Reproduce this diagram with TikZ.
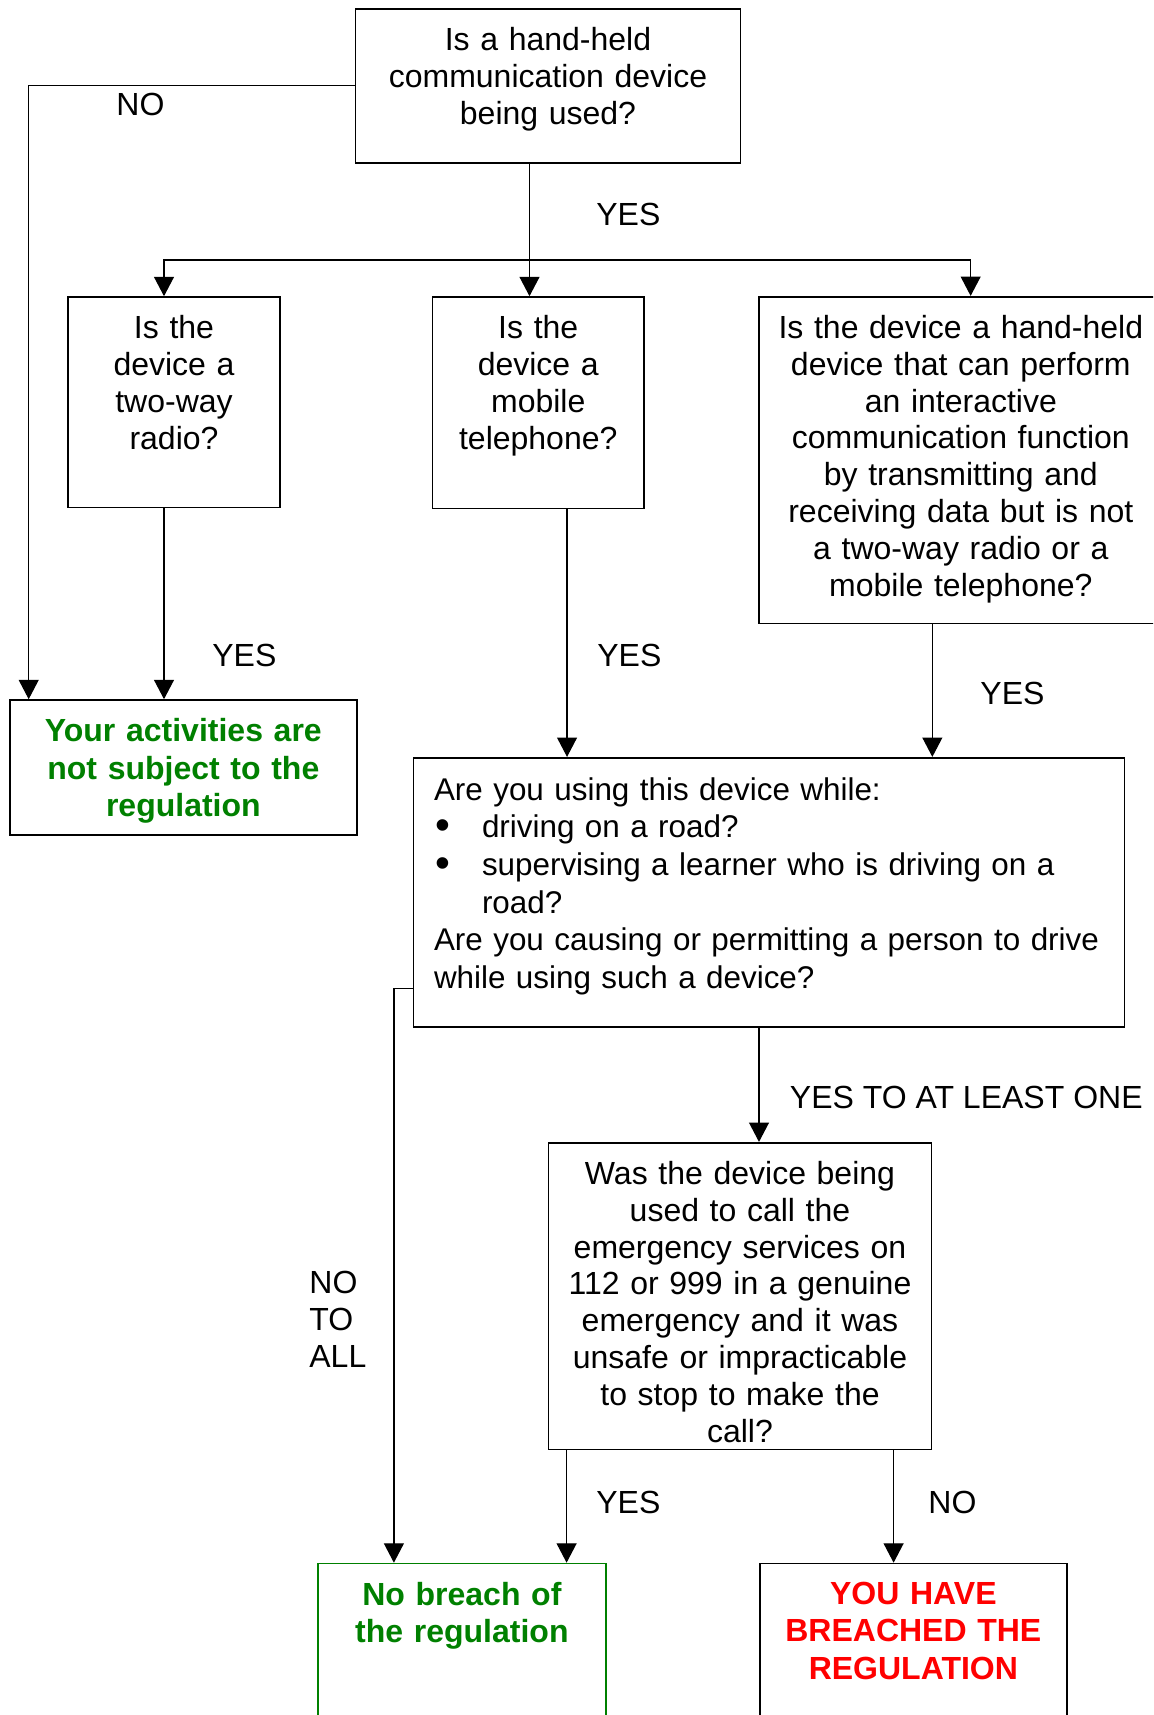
\documentclass[tikz,border=0pt]{standalone}
\usepackage{fontspec}
\setmainfont{Liberation Sans}
\usepackage{tikz}
\usetikzlibrary{arrows.meta,calc}
\definecolor{okgreen}{RGB}{0,128,0}
\definecolor{badred}{RGB}{255,0,0}
\newcommand{\bigbullet}{\makebox[24pt][l]{\hspace{0.5pt}\raisebox{-1pt}{\scalebox{1.35}{\textbullet}}}}

\begin{document}
\begin{tikzpicture}[x=0.5pt,y=-0.5pt,
  every node/.style={font=\fontsize{16pt}{18.4pt}\selectfont},
  qbox/.style={draw,line width=0.8pt,inner sep=0pt},
  qtext/.style={inner sep=0pt,align=center,anchor=north,yshift=-9.5pt,text width=#1},
  outtext/.style={qtext=#1,font=\bfseries\fontsize{16pt}{18.7pt}\selectfont},
  arr/.style={line width=0.6pt,-{Triangle[length=9.7pt,width=10pt]}},
  lbl/.style={inner sep=0pt,anchor=base west}]
\useasboundingbox (0,0) rectangle (1153,1715);
\clip (0,0) rectangle (1153,1715);

\node[qbox,minimum width=192.55pt,minimum height=76.85pt,
  label={[qtext=185pt]north:{Is a hand-held\\communication device\\being used?}}] (ask) at (548,85.85) {};
\node[qbox,minimum width=106pt,minimum height=105.15pt,
  label={[qtext=100pt]north:{Is the\\device a\\two-way\\radio?}}] (radio) at (174,402.15) {};
\node[qbox,minimum width=105.75pt,minimum height=105.75pt,
  label={[qtext=100pt]north:{Is the\\device a\\mobile\\telephone?}}] (phone) at (538.25,402.75) {};
\node[qbox,minimum width=202.15pt,minimum height=163.3pt,
  label={[qtext=196pt]north:{Is the device a hand-held\\device that can perform\\an interactive\\communication function\\by transmitting and\\receiving data but is not\\a two-way radio or a\\mobile telephone?}}] (other) at (960.85,460) {};
\node[qbox,minimum width=355.5pt,minimum height=134.5pt,
  label={[qtext=345pt,align=left,xshift=5pt,yshift=-0.6pt,font=\fontsize{15.7pt}{18.8pt}\selectfont]north:{Are you using this device while:\\
    \bigbullet driving on a road?\\
    \bigbullet supervising a learner who is driving on a\\
    \hspace*{24pt}road?\\
    Are you causing or permitting a person to drive\\
    while using such a device?}}] (using) at (769,892.2) {};
\node[qbox,minimum width=191.6pt,minimum height=153.4pt,
  label={[qtext=185pt]north:{Was the device being\\used to call the\\emergency services on\\112 or 999 in a genuine\\emergency and it was\\unsafe or impracticable\\to stop to make the\\call?}}] (emerg) at (740,1296.1) {};

\node[qbox,minimum width=173.35pt,minimum height=67.5pt,
  label={[outtext=168pt,text=okgreen]north:{Your activities are\\not subject to the\\regulation}}] (exempt) at (183.35,767.5) {};
\node[qbox,draw=okgreen,minimum width=143.9pt,minimum height=103.25pt,
  label={[outtext=138pt,text=okgreen]north:{No breach of\\the regulation}}] (nobreach) at (461.9,1666.75) {};
\node[qbox,minimum width=153.65pt,minimum height=103.25pt,
  label={[outtext=148pt,text=badred]north:{YOU HAVE\\BREACHED THE\\REGULATION}}] (breach) at (913.35,1666.75) {};

\coordinate (fork) at (529.5,260);
\draw[arr] (ask.west) -| ([xshift=9.75pt]exempt.north west);
\draw[line width=0.6pt] ([xshift=-9.25pt]ask.south) -- (fork);
\draw[arr] (fork) -| ([xshift=-5pt]radio.north);
\draw[arr] (fork) -- (phone.north -| fork);
\draw[arr] (fork) -| ([xshift=4.9pt]other.north);
\draw[arr] ([xshift=-5pt]radio.south) -- ([xshift=-5pt]radio.south |- exempt.north);
\draw[arr] ([xshift=14.4pt]phone.south) -- ([xshift=14.4pt]phone.south |- using.north);
\draw[arr] ([xshift=-14.25pt]other.south) -- ([xshift=-14.25pt]other.south |- using.north);
\draw[arr] ([yshift=-48pt]using.west) -| ([xshift=38.35pt]nobreach.north west);
\draw[arr] ([xshift=-5pt]using.south) -- ([xshift=-5pt]using.south |- emerg.north);
\draw[arr] ([xshift=-86.7pt]emerg.south) -- ([xshift=-86.7pt]emerg.south |- nobreach.north);
\draw[arr] ([xshift=76.8pt]emerg.south) -- ([xshift=76.8pt]emerg.south |- breach.north);

\node[lbl] (noA) at (116,115) {NO};
\node[lbl] (yesA) at (596,225) {YES};
\node[lbl] (yesB) at (212,666.7) {YES};
\node[lbl] (yesC) at (597,666.7) {YES};
\node[lbl] (yesD) at (980,704.5) {YES};
\node[lbl] (yesone) at (789.5,1108.3) {YES TO AT LEAST ONE};
\node[lbl,anchor=north west,align=left] (noall) at (309,1271) {NO\\TO\\ALL};
\node[lbl] (yesE) at (596,1513) {YES};
\node[lbl] (noB) at (928,1513) {NO};
\end{tikzpicture}
\end{document}
